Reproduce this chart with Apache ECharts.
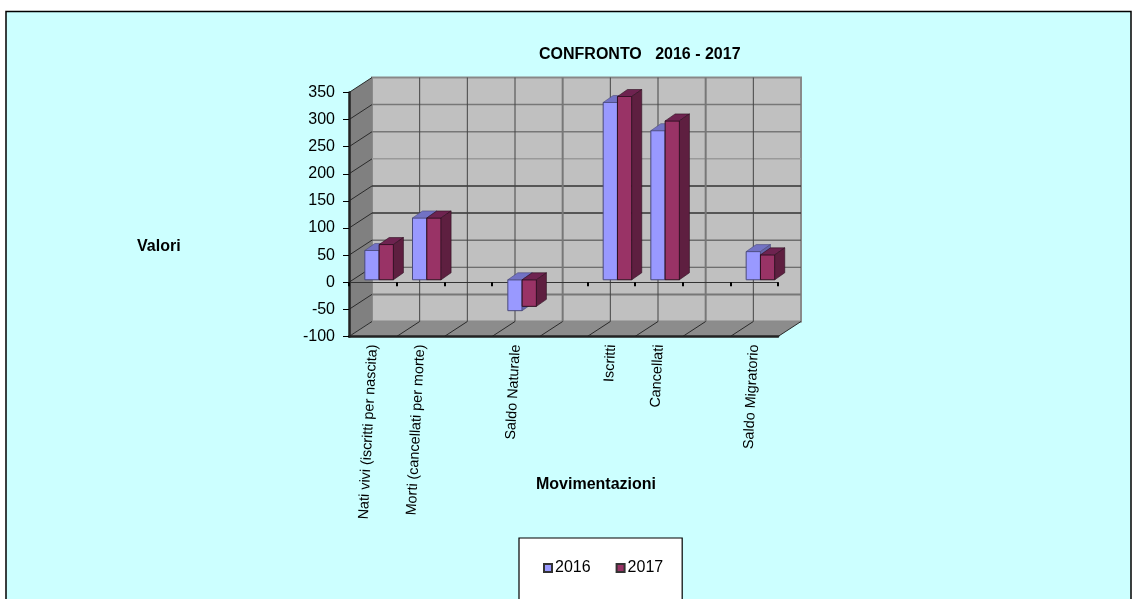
<!DOCTYPE html>
<html><head><meta charset="utf-8">
<style>html,body{margin:0;padding:0;background:#fff;overflow:hidden}#c{width:1137px;height:599px}</style>
<script src="https://cdn.jsdelivr.net/npm/echarts@6/dist/echarts.min.js"></script>
</head><body><div id="c"></div>
<script>
const categories = ['Nati vivi (iscritti per nascita)','Morti (cancellati per morte)','','Saldo Naturale','','Iscritti','Cancellati','','Saldo Migratorio'];
const values2016 = [54,114,null,-57,null,327,275,null,52];
const values2017 = [65,114,null,-49,null,338,293,null,46];
const valueTicks = [-100,-50,0,50,100,150,200,250,300,350];
const gridColors = ['#777','#777','#555','#444','#333','#333','#999','#777','#777','#888'];
const gridWidths = [1,2,1,1,1.5,1.5,1.5,1.5,1.5,1];
const vLineColors = ['#444','#444','#444','#777','#444','#444','#777','#444'];
const vLineWidths = [1,1,1,2,1,1,2,1];
const DX = 23, DY = -15, BX = 6.3, BY = -2.5, DEPTH_X = 10, DEPTH_Y = -7;
const font = 'Liberation Sans';

function poly(points, fill, stroke, w){
  return {type:'polygon',shape:{points},style:{fill,stroke:stroke||null,lineWidth:w||0}};
}
function line(a,b,stroke,w){
  return {type:'line',shape:{x1:a[0],y1:a[1],x2:b[0],y2:b[1]},style:{stroke,lineWidth:w}};
}
function renderWalls(params, api){
  const band = api.size([1,0])[0];
  const yMin = valueTicks[0], yMax = valueTicks[valueTicks.length-1];
  const c0 = api.coord([0,yMin]), c1 = api.coord([0,yMax]), cR = api.coord([categories.length-1,yMin]);
  const xL = c0[0]-band/2, xR = cR[0]+band/2, yB = c0[1], yT = c1[1];
  const kids = [];
  kids.push(poly([[xL+DX,yT+DY],[xR+DX,yT+DY],[xR+DX,yB+DY],[xL+DX,yB+DY]],'#c0c0c0','#8a8a8a',2));
  kids.push(poly([[xL,yT],[xL+DX,yT+DY],[xL+DX,yB+DY],[xL,yB]],'#808080'));
  kids.push(poly([[xL,yB],[xL+DX,yB+DY],[xR+DX,yB+DY],[xR,yB]],'#8c8c8c'));
  valueTicks.forEach((v,i)=>{
    const y = api.coord([0,v])[1];
    if (i>0) kids.push(line([xL+DX,y+DY],[xR+DX,y+DY],gridColors[i],gridWidths[i]));
    kids.push(line([xL,y],[xL+DX,y+DY],'#2a2a2a',1));
  });
  for(let i=0;i<=categories.length;i++){
    const x = xL+band*i;
    if(i>0&&i<categories.length) kids.push(line([x+DX,yT+DY],[x+DX,yB+DY],vLineColors[i-1],vLineWidths[i-1]));
    if(i>0) kids.push(line([x,yB],[x+DX,yB+DY],'#2a2a2a',1));
  }
  return {type:'group',children:kids};
}
function barRenderer(shift, front, top, side, stroke){
  return function(params, api){
    const v = api.value(1);
    const band = api.size([1,0])[0], w = band*0.3;
    const c = api.coord([api.value(0),v]), z = api.coord([api.value(0),0]);
    const x0 = c[0]+BX+shift*w, x1 = x0+w;
    const yBase = z[1]+BY, yVal = c[1]+BY;
    const yTop = Math.min(yBase,yVal), yBot = Math.max(yBase,yVal);
    return {type:'group',children:[
      poly([[x0,yTop],[x1,yTop],[x1,yBot],[x0,yBot]],front,stroke,1),
      poly([[x0,yTop],[x0+DEPTH_X,yTop+DEPTH_Y],[x1+DEPTH_X,yTop+DEPTH_Y],[x1,yTop]],top,stroke,0.6),
      poly([[x1,yTop],[x1+DEPTH_X,yTop+DEPTH_Y],[x1+DEPTH_X,yBot+DEPTH_Y],[x1,yBot]],side,stroke,0.6)
    ]};
  };
}
const toData = arr => arr.map((v,i)=>v===null?null:[i,v]).filter(Boolean);
const chart = echarts.init(document.getElementById('c'),null,{renderer:'canvas'});
const titleStyle = {fontFamily:font,fontSize:16,fontWeight:'bold',color:'#000'};
chart.setOption({
  animation:false,
  backgroundColor:'#fff',
  graphic:[{type:'rect',z:-10,zlevel:0,silent:true,shape:{x:6,y:11.5,width:1125,height:600},style:{fill:'#ccffff',stroke:'#000',lineWidth:1.5}}],
  title:[
    {text:'CONFRONTO   2016 - 2017',left:539,top:47,padding:0,textStyle:titleStyle},
    {text:'Valori',left:137,top:239,padding:0,textStyle:titleStyle},
    {text:'Movimentazioni',left:536,top:477,padding:0,textStyle:titleStyle}
  ],
  legend:{
    data:['2016','2017'],left:519,top:538,orient:'horizontal',
    padding:[22,19,38,24],itemGap:25,itemWidth:8,itemHeight:8,icon:'rect',
    backgroundColor:'#fff',borderColor:'#000',borderWidth:1.2,
    textStyle:{fontFamily:font,fontSize:16,color:'#000',padding:[0,0,0,-2]},
    selectedMode:false
  },
  grid:{left:349,right:359,top:92.5,bottom:262.5,containLabel:false},
  xAxis:[
    {type:'category',data:categories,position:'bottom',z:2,
     axisLine:{onZero:false,lineStyle:{color:'#222',width:2.5}},axisTick:{show:false},
     axisLabel:{interval:0,rotate:87,margin:8,fontFamily:font,fontSize:14.4,color:'#000'}},
    {type:'category',data:categories,position:'bottom',z:2,
     axisLine:{onZero:true,lineStyle:{color:'#333',width:1}},
     axisTick:{show:true,interval:0,length:4,lineStyle:{color:'#000',width:2}},
     axisLabel:{show:false,interval:0}}
  ],
  yAxis:{type:'value',min:-100,max:350,interval:50,z:2,
    axisLine:{show:true,lineStyle:{color:'#222',width:2.5}},
    axisTick:{show:true,length:6,lineStyle:{color:'#000',width:1}},
    splitLine:{show:false},
    axisLabel:{margin:14,fontFamily:font,fontSize:16,color:'#000'}},
  series:[
    {type:'custom',name:'walls',silent:true,z:1,renderItem:renderWalls,data:[[0,0]],xAxisIndex:0},
    {type:'custom',name:'2016',silent:true,z:3,itemStyle:{color:'#9999ff',borderColor:'#333',borderWidth:1},
     renderItem:barRenderer(-1,'#9999ff','#7272c4','#6666aa','#4a4a7a'),data:toData(values2016),xAxisIndex:0},
    {type:'custom',name:'2017',silent:true,z:4,itemStyle:{color:'#993366',borderColor:'#333',borderWidth:1},
     renderItem:barRenderer(0,'#993366','#6e2350','#5e1f40','#2e0f20'),data:toData(values2017),xAxisIndex:0}
  ]
});
</script></body></html>
